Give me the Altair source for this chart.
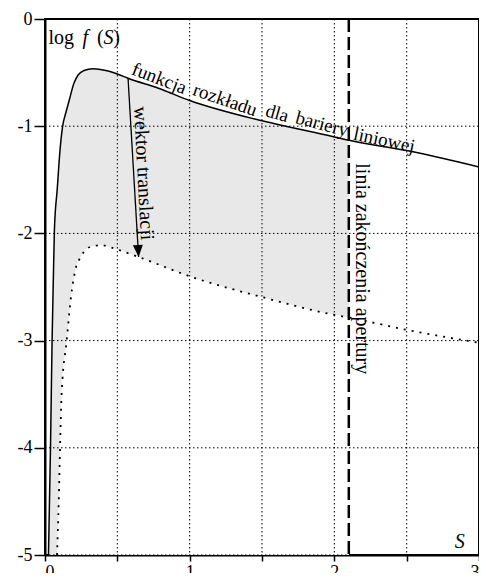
import altair as alt
import pandas as pd

# ---- data ----
solid_S = [0.024, 0.038, 0.049, 0.058, 0.065, 0.085, 0.104, 0.122, 0.145, 0.168, 0.20, 0.23, 0.27,
           0.33, 0.42, 0.5, 0.574, 0.784, 1.0, 1.5, 2.0, 2.1, 2.5, 3.0]
solid_y = [-5.0, -4.0, -3.0, -2.4, -1.97, -1.58, -1.22, -1.0, -0.87, -0.755, -0.6, -0.52, -0.48,
           -0.465, -0.48, -0.513, -0.553, -0.646, -0.76, -0.95, -1.10, -1.132, -1.227, -1.38]

dotted_S = [0.083, 0.095, 0.104, 0.115, 0.15, 0.18, 0.21, 0.25, 0.29, 0.35, 0.39, 0.476, 0.647,
            1.0, 1.5, 2.0, 2.1, 2.5, 3.0]
dotted_y = [-5.0, -4.5, -4.0, -3.5, -3.0, -2.59, -2.34, -2.215, -2.14, -2.115, -2.11, -2.14, -2.22,
            -2.40, -2.594, -2.76, -2.785, -2.90, -3.02]

aperture_S = 2.1
arrow_S = [0.574, 0.647]
arrow_y = [-0.553, -2.22]

x_ticks = [0, 0.5, 1, 1.5, 2, 2.5, 3]
y_ticks = [0, -1, -2, -3, -4, -5]

curve_words = ["funkcja", "rozkładu", "dla", "bariery", "liniowej"]
curve_word_S = [0.79, 1.245, 1.605, 1.915, 2.345]
curve_word_y = [-0.555, -0.755, -0.88, -0.98, -1.13]
curve_word_angle = [21, 19, 16, 15, 12]

FONT = "Liberation Serif"
INTERP = "monotone"

solid = pd.DataFrame({"S": solid_S, "y": solid_y})
dotted = pd.DataFrame({"S": dotted_S, "y": dotted_y})
arrow = pd.DataFrame({"S": arrow_S, "y": arrow_y})
aperture = pd.DataFrame({"S": [aperture_S], "y": [0.0], "y2": [-5.0]})
xgrid = pd.DataFrame({"S": x_ticks, "y": [0.0] * len(x_ticks), "y2": [-5.0] * len(x_ticks)})
ygrid = pd.DataFrame({"y": y_ticks, "S": [0.0] * len(y_ticks), "S2": [3.0] * len(y_ticks)})

xs = alt.Scale(domain=[0, 3], nice=False, zero=False)
ys = alt.Scale(domain=[-5, 0], nice=False, zero=False)

x_axis = alt.Axis(values=x_ticks, tickSize=6, labelPadding=2, title=None, grid=False,
                  labelExpr="datum.value % 1 == 0 ? '' + datum.value : ''",
                  domainColor="black", domainWidth=2, tickColor="black", tickWidth=1.5,
                  labelFont=FONT, labelFontSize=18, labelColor="black")
y_axis = alt.Axis(values=y_ticks, tickSize=11, labelPadding=2, title=None, grid=False,
                  labelExpr="'' + datum.value",
                  domainColor="black", domainWidth=2, tickColor="black", tickWidth=1.5,
                  labelFont=FONT, labelFontSize=18, labelColor="black")


def X():
    return alt.X("S:Q", scale=xs, axis=x_axis)


def Y():
    return alt.Y("y:Q", scale=ys, axis=y_axis)


# shaded region between the curves, up to the aperture line
gray = alt.Chart(solid).transform_filter(alt.datum.S <= aperture_S).mark_area(
    interpolate=INTERP, color="#e8e8e8", clip=True
).encode(x=X(), y=Y(), y2=alt.datum(-5))
white = alt.Chart(dotted).transform_filter(alt.datum.S <= aperture_S).mark_area(
    interpolate=INTERP, color="white", clip=True
).encode(x=X(), y=Y(), y2=alt.datum(-5))

vgrid = alt.Chart(xgrid).mark_rule(color="black", strokeWidth=1, strokeDash=[1.5, 2.5]).encode(
    x=X(), y=Y(), y2="y2:Q")
hgrid = alt.Chart(ygrid).mark_rule(color="black", strokeWidth=1, strokeDash=[1.5, 2.5]).encode(
    x=X(), x2="S2:Q", y=Y())

solid_line = alt.Chart(solid).mark_line(
    interpolate=INTERP, color="black", strokeWidth=1.5, clip=True
).encode(x=X(), y=Y())

dotted_line = alt.Chart(dotted).mark_line(
    interpolate=INTERP, color="black", strokeWidth=1.8, strokeDash=[2, 6], clip=True
).encode(x=X(), y=Y())

aperture_line = alt.Chart(aperture).mark_rule(
    color="black", strokeWidth=2.5, strokeDash=[13, 5]
).encode(x=X(), y=Y(), y2="y2:Q")

arrow_line = alt.Chart(arrow).mark_line(color="black", strokeWidth=1.3).encode(
    x=X(), y=Y(), order=alt.Order("S:Q")
)
arrow_head = alt.Chart(arrow.iloc[[1]]).mark_point(
    shape="M0,0L-1,-2.4L1,-2.4Z", size=100, filled=True, color="black", opacity=1, angle=356.6
).encode(x=X(), y=Y())

words = pd.DataFrame({"S": curve_word_S, "y": curve_word_y, "t": curve_words, "a": curve_word_angle})
curve_text = alt.Chart(words).mark_text(
    font=FONT, fontSize=19, color="black", align="center", baseline="middle"
).encode(x=X(), y=Y(), text="t:N", angle=alt.Angle("a:Q", scale=None))

wektor = alt.Chart(pd.DataFrame({"S": [0.681], "y": [-1.44], "t": ["wektor translacji"]})).mark_text(
    font=FONT, fontSize=20, color="black", align="center", baseline="middle", angle=87
).encode(x=X(), y=Y(), text="t:N")

linia = alt.Chart(pd.DataFrame({"S": [2.19], "y": [-2.33], "t": ["linia zakończenia apertury"]})).mark_text(
    font=FONT, fontSize=20, color="black", align="center", baseline="middle", angle=90
).encode(x=X(), y=Y(), text="t:N")

ylab_normal = alt.Chart(pd.DataFrame({"S": [0.024, 0.36, 0.472], "y": [-0.233] * 3,
                                      "t": ["log", "(", ")"]})).mark_text(
    font=FONT, fontSize=20, color="black", align="left", baseline="alphabetic"
).encode(x=X(), y=Y(), text="t:N")
ylab_italic = alt.Chart(pd.DataFrame({"S": [0.26, 0.405], "y": [-0.233] * 2,
                                      "t": ["f", "S"]})).mark_text(
    font=FONT, fontSize=20, color="black", align="left", baseline="alphabetic", fontStyle="italic"
).encode(x=X(), y=Y(), text="t:N")
xlab = alt.Chart(pd.DataFrame({"S": [2.832], "y": [-4.935], "t": ["S"]})).mark_text(
    font=FONT, fontSize=20, color="black", align="left", baseline="alphabetic", fontStyle="italic"
).encode(x=X(), y=Y(), text="t:N")

chart = alt.layer(
    gray, white, vgrid, hgrid, solid_line, dotted_line, aperture_line, arrow_line, arrow_head,
    curve_text, wektor, linia, ylab_normal, ylab_italic, xlab,
).properties(
    width=434, height=536,
    autosize=alt.AutoSizeParams(type="none"),
    padding={"left": 37, "top": 11, "right": 0, "bottom": 18},
).configure(font=FONT).configure_view(stroke="black", strokeWidth=2)

chart.save("out.html", embed_options={"renderer": "svg", "actions": False})
